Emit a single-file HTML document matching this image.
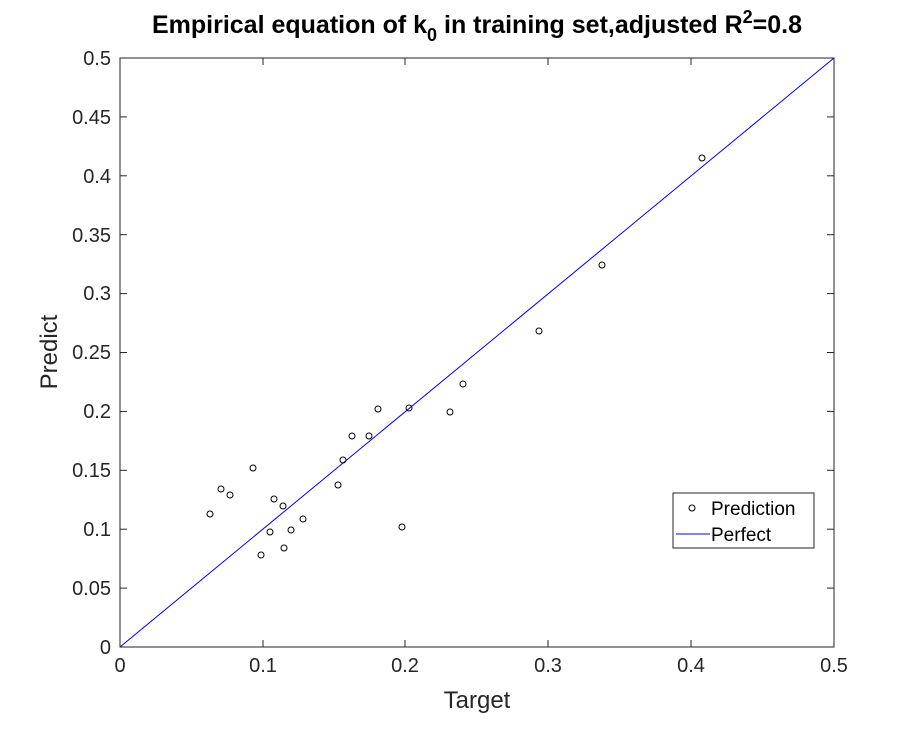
<!DOCTYPE html>
<html><head><style>body{margin:0;background:#fff}</style></head><body>
<svg width="921" height="727" xmlns="http://www.w3.org/2000/svg" font-family="Liberation Sans, sans-serif">
<rect width="921" height="727" fill="#fff"/>
<rect x="120" y="58" width="714" height="589" fill="#fff" stroke="#262626" stroke-width="1"/>
<g stroke="#262626" stroke-width="1">
<line x1="263" y1="647" x2="263" y2="640"/><line x1="405" y1="647" x2="405" y2="640"/><line x1="548" y1="647" x2="548" y2="640"/><line x1="691" y1="647" x2="691" y2="640"/>
<line x1="263" y1="58" x2="263" y2="65"/><line x1="405" y1="58" x2="405" y2="65"/><line x1="548" y1="58" x2="548" y2="65"/><line x1="691" y1="58" x2="691" y2="65"/>
<line x1="120" y1="588.1" x2="127" y2="588.1"/><line x1="120" y1="529.2" x2="127" y2="529.2"/><line x1="120" y1="470.3" x2="127" y2="470.3"/><line x1="120" y1="411.4" x2="127" y2="411.4"/><line x1="120" y1="352.5" x2="127" y2="352.5"/><line x1="120" y1="293.6" x2="127" y2="293.6"/><line x1="120" y1="234.7" x2="127" y2="234.7"/><line x1="120" y1="175.8" x2="127" y2="175.8"/><line x1="120" y1="116.9" x2="127" y2="116.9"/>
<line x1="834" y1="588.1" x2="827" y2="588.1"/><line x1="834" y1="529.2" x2="827" y2="529.2"/><line x1="834" y1="470.3" x2="827" y2="470.3"/><line x1="834" y1="411.4" x2="827" y2="411.4"/><line x1="834" y1="352.5" x2="827" y2="352.5"/><line x1="834" y1="293.6" x2="827" y2="293.6"/><line x1="834" y1="234.7" x2="827" y2="234.7"/><line x1="834" y1="175.8" x2="827" y2="175.8"/><line x1="834" y1="116.9" x2="827" y2="116.9"/>
</g>
<g font-size="20" fill="#262626" text-anchor="middle">
<text x="120" y="672">0</text><text x="263" y="672">0.1</text><text x="405" y="672">0.2</text><text x="548" y="672">0.3</text><text x="691" y="672">0.4</text><text x="834" y="672">0.5</text>
</g>
<g font-size="20" fill="#262626" text-anchor="end">
<text x="111" y="654">0</text><text x="111" y="595">0.05</text><text x="111" y="536">0.1</text><text x="111" y="477">0.15</text><text x="111" y="418">0.2</text><text x="111" y="359">0.25</text><text x="111" y="300">0.3</text><text x="111" y="242">0.35</text><text x="111" y="183">0.4</text><text x="111" y="124">0.45</text><text x="111" y="65">0.5</text>
</g>
<text x="477" y="708" font-size="24" fill="#262626" text-anchor="middle">Target</text>
<text transform="translate(57,352) rotate(-90)" font-size="24" fill="#262626" text-anchor="middle">Predict</text>
<text x="477" y="33" font-size="25" font-weight="bold" text-anchor="middle" fill="#000">Empirical equation of k<tspan font-size="18" dy="8">0</tspan><tspan dy="-8"> in training set,adjusted R</tspan><tspan font-size="18" dy="-10">2</tspan><tspan dy="10">=0.8</tspan></text>
<line x1="120" y1="647" x2="834" y2="58" stroke="#0000ff" stroke-width="1"/>
<g fill="none" stroke="#000" stroke-width="1">
<circle cx="210" cy="514" r="3"/><circle cx="221" cy="489" r="3"/><circle cx="230" cy="495" r="3"/><circle cx="253" cy="468" r="3"/><circle cx="261" cy="555" r="3"/><circle cx="270" cy="532" r="3"/><circle cx="274" cy="499" r="3"/><circle cx="283" cy="506" r="3"/><circle cx="284" cy="548" r="3"/><circle cx="291" cy="530" r="3"/><circle cx="303" cy="519" r="3"/><circle cx="338" cy="485" r="3"/><circle cx="343" cy="460" r="3"/><circle cx="352" cy="436" r="3"/><circle cx="369" cy="436" r="3"/><circle cx="378" cy="409" r="3"/><circle cx="409" cy="408" r="3"/><circle cx="402" cy="527" r="3"/><circle cx="450" cy="412" r="3"/><circle cx="463" cy="384" r="3"/><circle cx="539" cy="331" r="3"/><circle cx="602" cy="265" r="3"/><circle cx="702" cy="158" r="3"/>
</g>
<rect x="673" y="493" width="141" height="55" fill="#fff" stroke="#262626" stroke-width="1"/>
<circle cx="692" cy="508" r="3" fill="none" stroke="#000"/>
<text x="711" y="515" font-size="19" fill="#000">Prediction</text>
<line x1="676" y1="534" x2="710" y2="534" stroke="#0000ff"/>
<text x="711" y="541" font-size="19" fill="#000">Perfect</text>
</svg>
</body></html>
